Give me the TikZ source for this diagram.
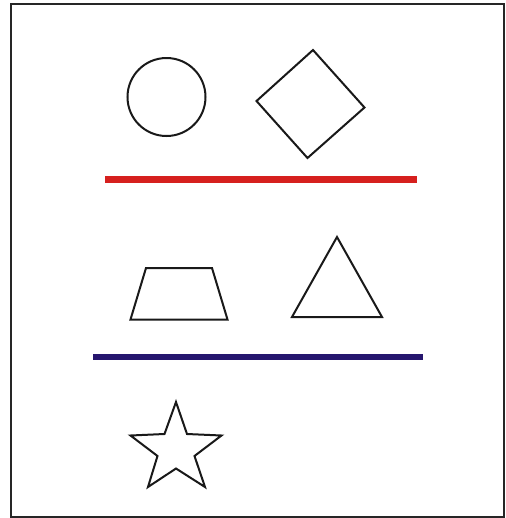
\documentclass[tikz,border=0pt]{standalone}
\usepackage{tikz}

\definecolor{barred}{RGB}{214,32,30}
\definecolor{barblue}{RGB}{38,22,110}

\begin{document}
\begin{tikzpicture}[
    x=0.02cm, y=-0.02cm,
    frame/.style={draw=black!85, line width=0.045cm},
    outline/.style={draw=black!90, line width=0.04cm, line join=miter},
    bar/.style={line width=0.13cm}
]

\useasboundingbox (0,0) rectangle (506,518);

% outer frame
\draw[frame] (11,4) rectangle (504,517);

% first row
\draw[outline] (166.5,97) circle[radius=39];
\draw[outline] (313,50) -- (364.5,107.5) -- (307.5,158) -- (256.5,101) -- cycle;

\draw[bar, barred] (105,179.5) -- (417,179.5);

% second row
\draw[outline] (146,268) -- (212,268) -- (227.5,319.5) -- (130.5,319.5) -- cycle;
\draw[outline] (337,237) -- (382,317) -- (292,317) -- cycle;

\draw[bar, barblue] (93,357) -- (423,357);

% third row
\draw[outline] (176,402) -- (187,434) -- (221.5,435.5) -- (194.5,456) -- (205,487)
    -- (176,468.5) -- (148,487) -- (157.5,456) -- (130.5,435.5) -- (164.5,434) -- cycle;

\end{tikzpicture}
\end{document}
